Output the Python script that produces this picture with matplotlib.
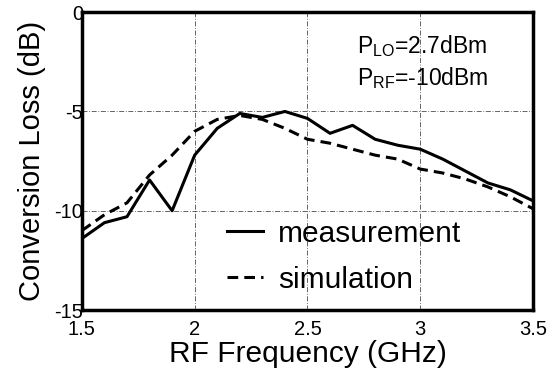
import matplotlib
matplotlib.use('Agg')
import matplotlib.pyplot as plt

# data
freq = [1.5, 1.6, 1.7, 1.8, 1.9, 2.0, 2.1, 2.2, 2.3, 2.4, 2.5,
        2.6, 2.7, 2.8, 2.9, 3.0, 3.1, 3.2, 3.3, 3.4, 3.5]
measurement = [-11.4, -10.6, -10.3, -8.45, -10.0, -7.2, -5.85, -5.1, -5.3, -5.0, -5.35,
               -6.1, -5.7, -6.4, -6.7, -6.9, -7.4, -8.0, -8.6, -8.95, -9.5]
simulation = [-11.0, -10.2, -9.6, -8.2, -7.2, -6.0, -5.4, -5.2, -5.4, -5.85, -6.4,
              -6.6, -6.9, -7.2, -7.4, -7.9, -8.1, -8.4, -8.8, -9.3, -9.9]
xticks = [1.5, 2, 2.5, 3, 3.5]
xticklabels = ['1.5', '2', '2.5', '3', '3.5']
yticks = [-15, -10, -5, 0]
yticklabels = ['-15', '-10', '-5', '0']

plt.rcParams['font.family'] = ['Liberation Sans', 'DejaVu Sans']
plt.rcParams['mathtext.fontset'] = 'custom'
plt.rcParams['mathtext.rm'] = 'Liberation Sans'


def main():
    fig = plt.figure(figsize=(5.57, 3.92), dpi=100, facecolor='white')
    ax = fig.add_axes([0.147, 0.209, 0.810, 0.760])

    ax.plot(freq, measurement, color='black', lw=2.2, ls='-', label='measurement')
    ax.plot(freq, simulation, color='black', lw=2.2, ls=(0, (3.5, 2)), label='simulation')

    ax.set_xlim(1.5, 3.5)
    ax.set_ylim(-15, 0)
    ax.set_xticks(xticks)
    ax.set_xticklabels(xticklabels)
    ax.set_yticks(yticks)
    ax.set_yticklabels(yticklabels)
    ax.tick_params(axis='both', which='both', length=0, labelsize=14.5)
    ax.tick_params(axis='x', pad=7)
    ax.tick_params(axis='y', pad=-1)

    ax.grid(True, color='black', lw=0.6, ls=(0, (6, 2, 1, 2)), alpha=0.7)
    for s in ax.spines.values():
        s.set_linewidth(2.5)
        s.set_color('black')

    ax.set_xlabel('RF Frequency (GHz)', fontsize=21.5, labelpad=1)
    ax.set_ylabel('Conversion Loss (dB)', fontsize=21, labelpad=6)

    ax.text(0.61, 0.885, r'P$_{\mathregular{LO}}$=2.7dBm', transform=ax.transAxes,
            fontsize=16.5, ha='left', va='center')
    ax.text(0.61, 0.78, r'P$_{\mathregular{RF}}$=-10dBm', transform=ax.transAxes,
            fontsize=16.5, ha='left', va='center')

    ax.legend(loc='lower left', bbox_to_anchor=(0.262, -0.035), frameon=False,
              fontsize=21.5, handlelength=1.2, handletextpad=0.5, labelspacing=0.6)

    fig.savefig('out.png', dpi=100, facecolor='white')


if __name__ == '__main__':
    main()
